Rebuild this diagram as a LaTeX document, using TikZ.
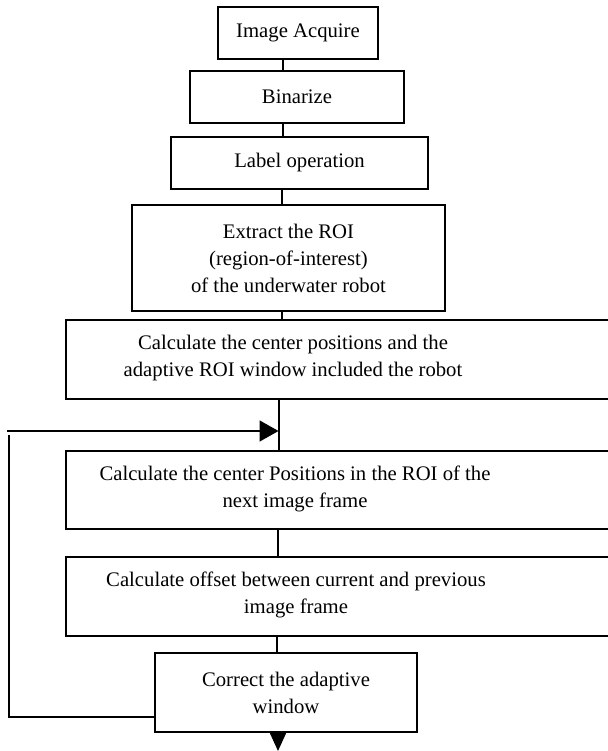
\documentclass[tikz,border=0pt]{standalone}
\usepackage{fontspec}
\setmainfont{Liberation Serif}
\usetikzlibrary{arrows.meta}
\begin{document}
\begin{tikzpicture}[x=1pt,y=-1pt,
  box/.style={draw, line width=1.6pt, inner sep=0pt, align=center,
    font=\fontsize{20.7}{27}\selectfont},
  txt/.style={inner sep=0pt, align=center, font=\fontsize{20.7}{27}\selectfont},
  conn/.style={line width=1.6pt}]
\useasboundingbox (0,0) rectangle (607,751);
\node[box, minimum width=160pt, minimum height=52pt] (b1) at (298,33) {Image Acquire};
\node[box, minimum width=214pt, minimum height=52pt] (b2) at (297,97) {Binarize};
\node[box, minimum width=257pt, minimum height=52pt] (b3) at (299.5,163) {Label operation};
\node[box, minimum width=313pt, minimum height=106pt] (b4) at (288.5,258) {Extract the ROI\\(region-of-interest)\\of the underwater robot};
\node[box, minimum width=546pt, minimum height=79pt] (b5) at (339,359.5) {};
\node[txt] (t5) at (293,358) {Calculate the center positions and the\\adaptive ROI window included the robot};
\node[box, minimum width=546pt, minimum height=78pt] (b6) at (339,490) {};
\node[txt] (t6) at (295,489) {Calculate the center Positions in the ROI of the\\next image frame};
\node[box, minimum width=546pt, minimum height=79pt] (b7) at (339,596.5) {};
\node[txt] (t7) at (296,595) {Calculate offset between current and previous\\image frame};
\node[box, minimum width=262pt, minimum height=79pt] (b8) at (286,692.5) {Correct the adaptive\\window};
\coordinate (fbA) at (9,717);
\coordinate (fbB) at (9,435);
\coordinate (fbC) at (7,431);
\coordinate (fbD) at (278.5,431);
\coordinate (endp) at (278,751);
\draw[conn] ([xshift=-15pt]b1.south) -- ([xshift=-15pt]b1.south |- b2.north);
\draw[conn] ([xshift=-14pt]b2.south) -- ([xshift=-14pt]b2.south |- b3.north);
\draw[conn] ([xshift=-17.5pt]b3.south) -- ([xshift=-17.5pt]b3.south |- b4.north);
\draw[conn] ([xshift=-6.5pt]b4.south) -- ([xshift=-6.5pt]b4.south |- b5.north);
\draw[conn] ([xshift=-60pt]b5.south) -- ([xshift=-60pt]b5.south |- b6.north);
\draw[conn] ([xshift=-61pt]b6.south) -- ([xshift=-61pt]b6.south |- b7.north);
\draw[conn] ([xshift=-62pt]b7.south) -- ([xshift=-62pt]b7.south |- b8.north);
\draw[conn, -{Triangle[length=18pt,width=16pt]}] ([xshift=-8pt]b8.south) -- (endp);
\draw[conn] (b8.west |- fbA) -- (fbA) -- (fbB);
\draw[conn, -{Triangle[length=19pt,width=21pt]}] (fbC) -- (fbD);
\end{tikzpicture}
\end{document}
